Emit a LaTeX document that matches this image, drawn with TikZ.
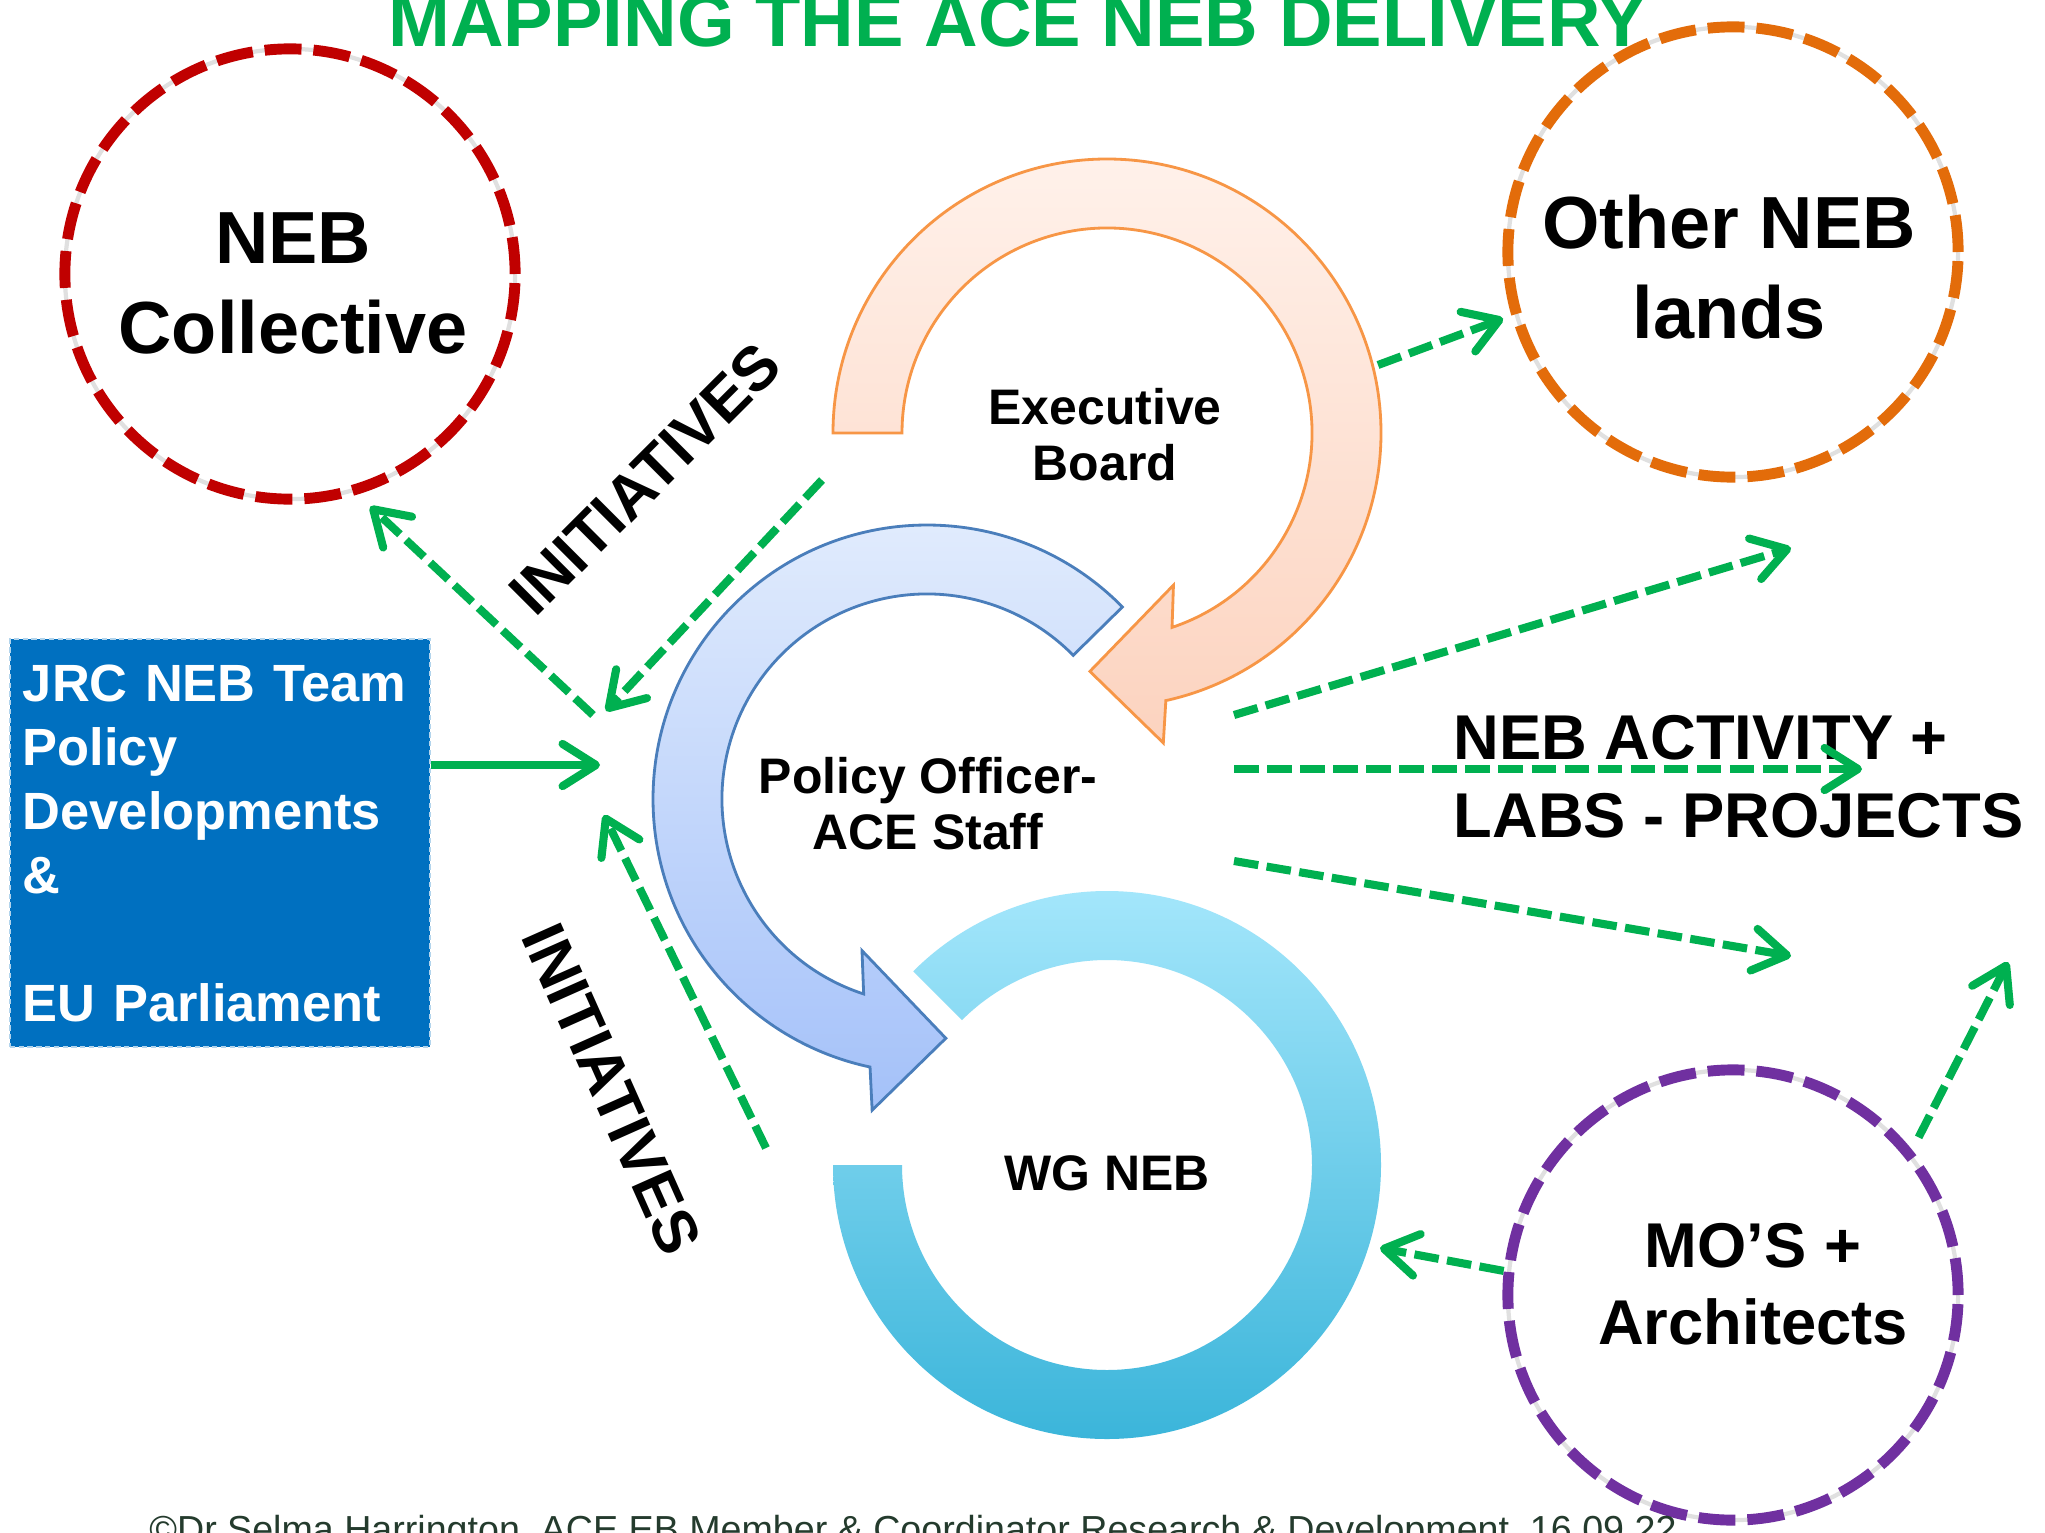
\documentclass[tikz,border=0pt]{standalone}
\usepackage{fontspec}
\setmainfont{Liberation Sans}
\usetikzlibrary{arrows.meta}
\definecolor{necred}{HTML}{C00000}
\definecolor{landorange}{HTML}{E36C0A}
\definecolor{mospurple}{HTML}{7030A0}
\definecolor{arrowgreen}{HTML}{00B050}
\definecolor{jrcblue}{HTML}{0070C0}
\definecolor{footgreen}{HTML}{243B2D}
\definecolor{exectop}{HTML}{FFF1EA}
\definecolor{execbot}{HTML}{FCD3BF}
\definecolor{execline}{HTML}{F79646}
\definecolor{poltop}{HTML}{E3EDFD}
\definecolor{polbot}{HTML}{A4C1F9}
\definecolor{polline}{HTML}{4A7EBB}
\definecolor{wgtop}{HTML}{A3E6FB}
\definecolor{wgbot}{HTML}{3BB5DA}

\begin{document}
\begin{tikzpicture}[x=0.01cm,y=0.01cm]
\tikzstyle{every node}+=[inner sep=0pt]
\tikzstyle{ring}=[circle, minimum size=4.5cm, line width=3.1pt, dash pattern=on 10.5pt off 3.4pt, preaction={draw=black!12, solid, line width=1.2pt}]
\tikzstyle{big}=[align=center, font=\bfseries\fontsize{21pt}{25.8pt}\selectfont]
\tikzstyle{mid}=[align=center, font=\bfseries\fontsize{14.2pt}{15.9pt}\selectfont]
\tikzstyle{tag}=[font=\bfseries\fontsize{17.6pt}{20pt}\selectfont]
\tikzstyle{flow}=[draw=arrowgreen, line width=2.3pt, -{Straight Barb[length=9.5pt,width=12pt,round]}]
\tikzstyle{dflow}=[flow, dash pattern=on 7pt off 2.4pt]
\tikzstyle{jrcbox}=[rectangle, fill=jrcblue, draw=white!70!jrcblue, dash pattern=on 1.5pt off 1pt, line width=0.6pt, minimum width=4.2cm, minimum height=4.08cm, text width=3.94cm, inner xsep=0.13cm, align=left, text=white, font=\bfseries\fontsize{14.9pt}{18.2pt}\selectfont]
\tikzstyle{execarrow}=[draw=execline, line width=0.8pt, top color=exectop, bottom color=execbot]
\tikzstyle{polarrow}=[draw=polline, line width=0.8pt, top color=poltop, bottom color=polbot]
\tikzstyle{wgring}=[top color=wgtop, bottom color=wgbot]
\clip (0,0) rectangle (2045,-1533);
\fill[white] (0,0) rectangle (2045,-1533);
\begin{scope}[shift={(1107,-1165)}]
\shade[wgring] (180:274) arc[start angle=180,end angle=495,radius=274] -- (135:205) arc[start angle=135,end angle=-180,radius=205] -- cycle;
\end{scope}
\begin{scope}[shift={(927,-799)}]
\draw[polarrow] (44.5:274) arc[start angle=44.5,end angle=258,radius=274] -- (260:316) -- (274.5:240) -- (246.8:165) -- (252:205) arc[start angle=252,end angle=44.5,radius=205] -- cycle;
\end{scope}
\begin{scope}[shift={(1107,-433)}]
\draw[execarrow] (180:274) arc[start angle=180,end angle=-77.6,radius=274] -- (-79.7:315) -- (-94.1:239) -- (-66.4:166) -- (-71.5:205) arc[start angle=-71.5,end angle=180,radius=205] -- cycle;
\end{scope}
\draw (1018,-46) node[anchor=base, text=arrowgreen, font=\bfseries\fontsize{21.1pt}{24pt}\selectfont] (title) {MAPPING THE ACE NEB DELIVERY};
\draw (290,-274) node[ring, draw=necred] (collective) {};
\draw (293,-283.5) node[big] (collectivetxt) {NEB\\Collective};
\draw (1733,-252) node[ring, draw=landorange] (lands) {};
\draw (1729,-267) node[big] (landstxt) {Other NEB\\lands};
\draw (1733,-1295) node[ring, draw=mospurple] (mos) {};
\draw (1753,-1284) node[align=center, font=\bfseries\fontsize{18pt}{21.9pt}\selectfont] (mostxt) {MO’S +\\Architects};
\draw (220,-843) node[jrcbox] (jrc) {JRC NEB Team\\Policy\\Developments\\\&\\[18.2pt]EU Parliament};
\draw (1105,-434.5) node[mid] (exec) {Executive\\Board};
\draw (928,-804) node[mid] (policy) {Policy Officer-\\ACE Staff};
\draw (1107,-1173) node[mid] (wg) {WG NEB};
\draw (645,-479) node[tag, rotate=45] (initupper) {INITIATIVES};
\draw (612,-1089) node[tag, rotate=-66] (initlower) {INITIATIVES};
\draw (1453,-776.5) node[anchor=west, align=left, font=\bfseries\fontsize{18pt}{22.1pt}\selectfont] (activity) {NEB ACTIVITY +\\LABS - PROJECTS};
\draw (913,-1542) node[anchor=base, text=footgreen, font=\fontsize{10.7pt}{12pt}\selectfont] (credit) {©Dr Selma Harrington, ACE EB Member \& Coordinator Research \& Development, 16.09.22};
\coordinate (hubN) at (593,-715);
\coordinate (hubNE) at (606,-711);
\coordinate (hubW) at (600,-765);
\coordinate (hubS) at (604,-815);
\coordinate (initTopEnd) at (822,-480);
\coordinate (initBotEnd) at (766,-1148);
\coordinate (execEast) at (1378,-365);
\coordinate (out1) at (1234,-715);
\coordinate (out2) at (1234,-769);
\coordinate (out3) at (1234,-861);
\coordinate (act1) at (1791,-548);
\coordinate (act2) at (1862,-769);
\coordinate (act3) at (1791,-956);
\coordinate (act4) at (2008,-962);
\coordinate (wgEast) at (1380,-1248);
\draw[dflow, shorten >=5pt] (hubN) -- (collective.-73);
\draw[dflow] (initTopEnd) -- (hubNE);
\draw[flow] (jrc.east |- hubW) -- (hubW);
\draw[dflow] (initBotEnd) -- (hubS);
\draw[dflow, shorten >=2.5pt] (execEast) -- (lands.196);
\draw[dflow] (out1) -- (act1);
\draw[dflow] (out2) -- (act2);
\draw[dflow] (out3) -- (act3);
\draw[dflow, shorten <=4pt] (mos.39) -- (act4);
\draw[dflow] (mos.174) -- (wgEast);
\end{tikzpicture}
\end{document}
